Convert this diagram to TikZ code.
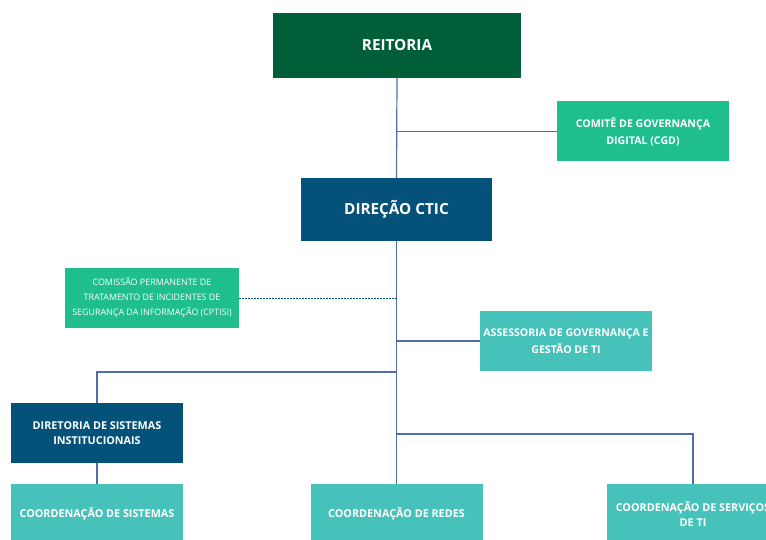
\documentclass[tikz,border=0pt]{standalone}
\usepackage{fontspec}
\setmainfont{Open Sans}
\usetikzlibrary{positioning}

\definecolor{reitgreen}{HTML}{005F38}
\definecolor{comgreen}{HTML}{1EBE8D}
\definecolor{dirblue}{HTML}{04517A}
\definecolor{coordteal}{HTML}{46C2BA}
\definecolor{linkblue}{HTML}{4D6FA6}

\begin{document}
\begin{tikzpicture}[x=1pt, y=-1pt,
    box/.style={rectangle, inner sep=0pt, align=center, text=white,
      minimum width=172pt, minimum height=60pt},
    bigbox/.style={box, font=\fontsize{15.3}{18}\selectfont\bfseries},
    midbox/.style={box, font=\fontsize{10.6}{17}\selectfont\bfseries},
    smallbox/.style={box, font=\fontsize{10.8}{15}\selectfont\bfseries},
    link/.style={draw=linkblue, line width=1.2pt}]
  \useasboundingbox (0,0) rectangle (766,540);

  % top of the chart
  \node[bigbox, fill=reitgreen, minimum width=248pt, minimum height=65pt] (reitoria) at (397,45.5) {REITORIA};
  \node[midbox, fill=comgreen] (cgd) at (643,131.5) {COMITÊ DE GOVERNANÇA\\DIGITAL (CGD)};
  \node[bigbox, fill=dirblue, minimum width=191pt, minimum height=63pt] (ctic) at (396.5,209.5) {DIREÇÃO CTIC};

  % staff units
  \node[box, fill=comgreen, minimum width=174pt, font=\fontsize{8.9}{15}\selectfont] (cptisi) at (152,298)
    {COMISSÃO PERMANENTE DE\\TRATAMENTO DE INCIDENTES DE\\SEGURANÇA DA INFORMAÇÃO (CPTISI)};
  \node[midbox, fill=coordteal] (agti) at (566,341) {ASSESSORIA DE GOVERNANÇA E\\GESTÃO DE TI};

  % directorate and coordinations
  \node[smallbox, fill=dirblue] (dsi) at (97,433) {DIRETORIA DE SISTEMAS\\INSTITUCIONAIS};
  \node[smallbox, fill=coordteal] (cs) at (97,514) {COORDENAÇÃO DE SISTEMAS};
  \node[smallbox, fill=coordteal] (cr) at (396.5,514) {COORDENAÇÃO DE REDES};
  \node[smallbox, fill=coordteal] (cst) at (693,514) {COORDENAÇÃO DE SERVIÇOS\\DE TI};

  \coordinate (jdsi) at (397,372);
  \coordinate (jcst) at (397,434);

  % connectors
  \draw[link] (reitoria.south) -- (ctic.north);
  \draw[link] (reitoria.south |- cgd.west) -- (cgd.west);
  \draw[link] (ctic.south) -- (cr.north);
  \draw[draw=dirblue, line width=1pt, dash pattern=on 2pt off 1pt] (cptisi.east) -- (ctic.south |- cptisi.east);
  \draw[link] (ctic.south |- agti.west) -- (agti.west);
  \draw[link] (jdsi) -| (dsi.north);
  \draw[link] (jcst) -| (cst.north);
  \draw[link] (dsi.south) -- (cs.north);
\end{tikzpicture}
\end{document}
